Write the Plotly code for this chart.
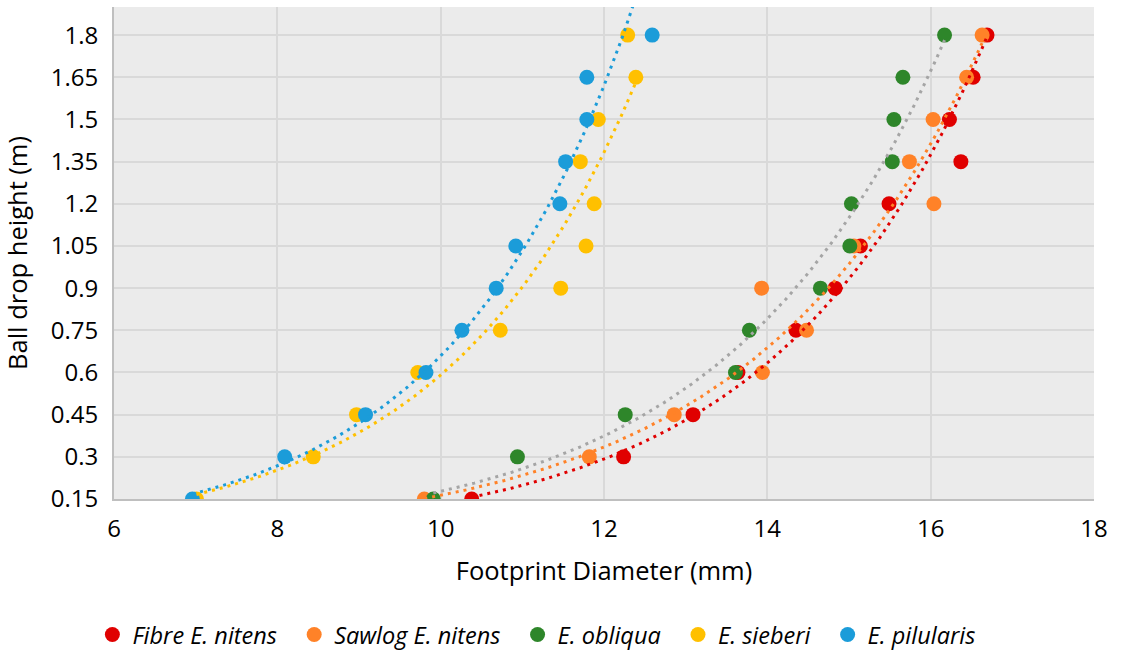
import numpy as np
import plotly.graph_objects as go

# ---- data ----
heights = [0.15, 0.3, 0.45, 0.6, 0.75, 0.9, 1.05, 1.2, 1.35, 1.5, 1.65, 1.8]
fibre_nitens = [10.38, 12.24, 13.09, 13.64, 14.35, 14.83, 15.14, 15.49, 16.37, 16.23, 16.52, 16.69]
sawlog_nitens = [9.80, 11.82, 12.86, 13.94, 14.48, 13.93, 15.06, 16.04, 15.74, 16.03, 16.44, 16.63]
obliqua = [9.91, 10.94, 12.26, 13.61, 13.78, 14.65, 15.01, 15.03, 15.53, 15.55, 15.66, 16.17]
sieberi = [7.01, 8.44, 8.97, 9.72, 10.73, 11.47, 11.78, 11.88, 11.71, 11.93, 12.39, 12.29]
pilularis = [6.96, 8.09, 9.08, 9.82, 10.26, 10.68, 10.92, 11.46, 11.53, 11.79, 11.79, 12.59]

series_names = ["Fibre E. nitens", "Sawlog E. nitens", "E. obliqua", "E. sieberi", "E. pilularis"]
series_values = [fibre_nitens, sawlog_nitens, obliqua, sieberi, pilularis]
marker_colors = ["#E00000", "#FF8228", "#2E862A", "#FFC000", "#1B9CD9"]
trend_colors = ["#E00000", "#FF8228", "#A5A5A5", "#FFC000", "#1B9CD9"]

y_tick_vals = [0.15, 0.3, 0.45, 0.6, 0.75, 0.9, 1.05, 1.2, 1.35, 1.5, 1.65, 1.8]
y_tick_text = ["0.15", "0.3", "0.45", "0.6", "0.75", "0.9", "1.05", "1.2", "1.35", "1.5", "1.65", "1.8"]
x_tick_vals = [6, 8, 10, 12, 14, 16, 18]

FONT = "Open Sans"

fig = go.Figure()

# markers
n = len(series_names)
for i, (name, xs, col) in enumerate(zip(series_names, series_values, marker_colors)):
    pad = "\u00a0\u00a0" if i < n - 1 else ""
    fig.add_trace(go.Scatter(
        x=xs, y=heights, mode="markers", name="<i>" + name + "</i>" + pad,
        marker=dict(color=col, size=15, line=dict(width=0)),
    ))

# exponential trendlines (y = a*exp(b*x)), like Excel
for name, xs, col in zip(series_names, series_values, trend_colors):
    xa = np.array(xs, dtype=float)
    ya = np.array(heights, dtype=float)
    b, ln_a = np.polyfit(xa, np.log(ya), 1)
    xx = np.linspace(xa.min(), xa.max(), 300)
    yy = np.exp(ln_a) * np.exp(b * xx)
    fig.add_trace(go.Scatter(
        x=xx, y=yy, mode="lines", showlegend=False, hoverinfo="skip",
        line=dict(color=col, width=3, dash="3px,5px"),
    ))

fig.update_layout(
    width=1121, height=652,
    margin=dict(l=114, r=27, t=7, b=153, autoexpand=False),
    paper_bgcolor="white",
    plot_bgcolor="#EBEBEB",
    font=dict(family=FONT, color="#000000", size=24),
    showlegend=True,
    legend=dict(
        orientation="h",
        x=0.431, xanchor="center", y=-0.276, yanchor="middle",
        font=dict(family=FONT, size=23.5, color="#000000"),
        itemwidth=30, tracegroupgap=0,
    ),
)

fig.update_xaxes(
    range=[6, 18], tickvals=x_tick_vals, ticktext=[str(v) for v in x_tick_vals],
    showgrid=True, gridcolor="#D9D9D9", gridwidth=2,
    showline=True, linecolor="#BFBFBF", linewidth=2,
    zeroline=False, ticks="", ticklabelstandoff=7, automargin=False,
    tickfont=dict(family=FONT, size=24),
    title=dict(text="Footprint Diameter (mm)", font=dict(family=FONT, size=25.5), standoff=19),
)
fig.update_yaxes(
    range=[0.15, 1.9], tickvals=y_tick_vals, ticktext=y_tick_text,
    showgrid=True, gridcolor="#D9D9D9", gridwidth=2,
    showline=True, linecolor="#BFBFBF", linewidth=2,
    zeroline=False, ticks="", ticklabelstandoff=9, automargin=False,
    tickfont=dict(family=FONT, size=24),
    title=dict(text="Ball drop height (m)", font=dict(family=FONT, size=25.5), standoff=18),
)

fig.write_html("out.html", config={"displayModeBar": False},
               post_script="document.body.style.margin='0px';")
